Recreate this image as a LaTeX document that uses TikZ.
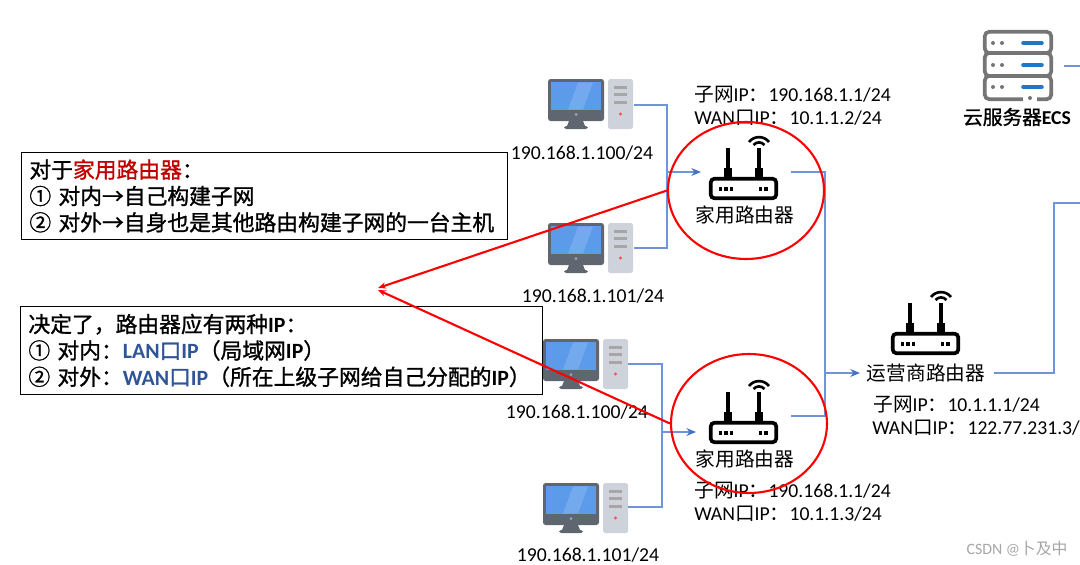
\documentclass[tikz,border=0pt]{standalone}
\usepackage{fontspec}
\setmainfont{Carlito}
\newfontfamily\cjk{Noto Sans CJK SC}
\newfontfamily\cjkb[FakeBold=1.2]{Noto Sans CJK SC}
\newcommand{\zh}[1]{{\cjk #1}}
\newcommand{\zb}[1]{{\cjkb #1}}
\usetikzlibrary{arrows.meta,shapes.geometric}
\definecolor{linkblue}{HTML}{6F94D8}
\definecolor{tipblue}{HTML}{4472C4}
\definecolor{lanblue}{HTML}{2F5597}
\definecolor{homered}{HTML}{C00000}
\definecolor{bezelgray}{HTML}{5F6670}
\definecolor{screenblue}{HTML}{5B9BEA}
\definecolor{towergray}{HTML}{CED2DA}
\definecolor{rackgray}{HTML}{757575}
\definecolor{barblue}{HTML}{1E78C8}
\tikzset{
	link/.style={draw=linkblue, line width=0.7pt},
	linkarrow/.style={link, -{Stealth[length=5.5pt,width=4.5pt,color=tipblue]}},
	redarrow/.style={draw=red, line width=1.2pt, -{Stealth[length=4.5pt,width=3.5pt]}},
	redring/.style={draw=red, line width=1.2pt, ellipse, inner sep=0pt, minimum width=3.12cm},
	iplabel/.style={font=\fontsize{11.2pt}{13pt}\selectfont, inner sep=0pt},
	devname/.style={font=\fontsize{11.2pt}{13pt}\selectfont, inner sep=0pt},
	notebox/.style={draw=black, fill=white, line width=0.6pt, anchor=north west, align=left, inner xsep=4.5pt, inner ysep=0pt,
		font=\fontsize{12.4pt}{15pt}\selectfont},
	pics/pc/.style={code={
		\fill[bezelgray, rounded corners=1.5pt] (0,0) rectangle (56,42);
		\fill[screenblue] (3.3,3.3) rectangle (52.7,30.7);
		\fill[white, opacity=0.15] (30,3.3) -- (45,3.3) -- (35,30.7) -- (20,30.7) -- cycle;
		\fill[towergray!60!bezelgray] (28,35.5) circle (1.5);
		\fill[bezelgray] (21,42) -- (35,42) -- (37,47) -- (19,47) -- cycle;
		\fill[bezelgray, rounded corners=1pt] (16,47) rectangle (40,50);
		\fill[towergray, rounded corners=1pt] (60,0) rectangle (85,50);
		\fill[gray!70] (65.5,7) rectangle (79,10);
		\fill[gray!70] (65.5,14) rectangle (79,17);
		\fill[gray!70] (65.5,21.5) rectangle (79,24.5);
		\fill[red!70] (72.5,35) circle (1.6);
	}},
	pics/router/.style={code={
		\draw[black, line width=2.1pt, rounded corners=2pt] (1.8,1.8) rectangle (67.2,21.2);
		\draw[black, line width=2.2pt] (19,1) -- (19,-29);
		\draw[black, line width=4.2pt] (19,1) -- (19,-9);
		\draw[black, line width=2.2pt] (50,1) -- (50,-29);
		\draw[black, line width=4.2pt] (50,1) -- (50,-9);
		\draw[black, line width=1.5pt] (40,-35) .. controls (45,-41.5) and (55,-41.5) .. (60,-35);
		\draw[black, line width=1.5pt] (44.5,-32) .. controls (47.5,-35.5) and (52.5,-35.5) .. (55.5,-32);
		\foreach \dotx in {11.5,17,22.5,51.5,57}
			\fill[black] (\dotx-1.9,10) rectangle (\dotx+1.9,13.7);
	}},
	pics/server/.style={code={
		\draw[rackgray, line width=2.1pt, rounded corners=2.5pt] (1.8,1.8) rectangle (68.2,23);
		\draw[rackgray, line width=2.1pt, rounded corners=2.5pt] (1.8,23) rectangle (68.2,46);
		\draw[rackgray, line width=2.1pt, rounded corners=2.5pt] (1.8,46) rectangle (68.2,69.2);
		\fill[white] (40,66) rectangle (54,72);
		\fill[rackgray] (47,68) circle (2);
		\foreach \rowy in {13,35,57} {
			\fill[rackgray] (10,\rowy) circle (2);
			\fill[rackgray] (19,\rowy) circle (2);
			\draw[barblue, line width=2pt, line cap=round] (40,\rowy) -- (59,\rowy);
		}
	}}
}
\begin{document}
\begin{tikzpicture}[x=0.02cm, y=-0.02cm]
	\useasboundingbox (0,0) rectangle (1080,565);

	\pic (pc1) at (548,79) {pc};
	\pic (pc2) at (548,223) {pc};
	\pic (pc3) at (543,339) {pc};
	\pic (pc4) at (543,483) {pc};
	\pic (home1) at (709,177) {router};
	\pic (home2) at (709,421) {router};
	\pic (isp) at (891,332) {router};
	\pic (ecs) at (983,30) {server};

	% ports and bends
	\coordinate (pc1port) at (634,105);
	\coordinate (pc2port) at (634,248);
	\coordinate (pc3port) at (628,364);
	\coordinate (pc4port) at (628,507);
	\coordinate (join1) at (667,172);
	\coordinate (join2) at (662,432);
	\coordinate (join3) at (825,373);
	\coordinate (home1in) at (701,172);
	\coordinate (home2in) at (696,432);
	\coordinate (home1out) at (791,172);
	\coordinate (home2out) at (791,416);
	\coordinate (ispin) at (860,373);
	\coordinate (ispout) at (994,373);
	\coordinate (wanend) at (1080,203);
	\coordinate (ecsport) at (1064,66);
	\coordinate (ecsend) at (1080,66);
	\coordinate (meet1) at (378,288);
	\coordinate (meet2) at (378,290);

	\draw[link] (pc1port) -| (join1);
	\draw[link] (pc2port) -| (join1);
	\draw[linkarrow] (join1) -- (home1in);
	\draw[link] (pc3port) -| (join2);
	\draw[link] (pc4port) -| (join2);
	\draw[linkarrow] (join2) -- (home2in);
	\draw[link] (home1out) -| (join3);
	\draw[link] (home2out) -| (join3);
	\draw[linkarrow] (join3) -- (ispin);
	\draw[link] (ispout) -| (1054,203) -- (wanend);
	\draw[link] (ecsport) -- (ecsend);

	\node[devname] (home1name) at (745,215) {\zh{家用路由器}};
	\node[devname] (home2name) at (745,459) {\zh{家用路由器}};
	\node[devname] (ispname) at (926,373) {\zh{运营商路由器}};
	\node[devname] (ecsname) at (1017,117) {\zb{云服务器}\textbf{ECS}};

	\node[iplabel] (pc1ip) at (582,153) {190.168.1.100/24};
	\node[iplabel] (pc2ip) at (593,296) {190.168.1.101/24};
	\node[iplabel] (pc3ip) at (577,412) {190.168.1.100/24};
	\node[iplabel] (pc4ip) at (588,555) {190.168.1.101/24};

	\node[iplabel, anchor=west] (home1lan) at (694,95) {\zh{子网}IP\zh{：}190.168.1.1/24};
	\node[iplabel, anchor=west] (home1wan) at (694,118) {WAN\zh{口}IP\zh{：}10.1.1.2/24};
	\node[iplabel, anchor=west] (home2lan) at (694,491) {\zh{子网}IP\zh{：}190.168.1.1/24};
	\node[iplabel, anchor=west] (home2wan) at (694,514) {WAN\zh{口}IP\zh{：}10.1.1.3/24};
	\node[iplabel, anchor=west] (isplan) at (873,405) {\zh{子网}IP\zh{：}10.1.1.1/24};
	\node[iplabel, anchor=west] (ispwan) at (872,428) {WAN\zh{口}IP\zh{：}122.77.231.3/};

	\node[notebox, text width=9.72cm-9pt, minimum height=1.74cm] (note1) at (21,152) {%
		\zb{对于}{\cjkb\color{homered}家用路由器}\zb{：}\\
		\zb{① 对内→自己构建子网}\\
		\zb{② 对外→自身也是其他路由构建子网的一台主机}};
	\node[notebox, text width=10.44cm-9pt, minimum height=1.76cm] (note2) at (20,306) {%
		\zb{决定了，路由器应有两种}\textbf{IP}\zb{：}\\
		\zb{① 对内：}{\color{lanblue}\textbf{LAN}\zb{口}\textbf{IP}}\zb{（局域网}\textbf{IP}\zb{）}\\
		\zb{② 对外：}{\color{lanblue}\textbf{WAN}\zb{口}\textbf{IP}}\zb{（所在上级子网给自己分配的}\textbf{IP}\zb{）}};

	\node[redring, minimum height=2.74cm] (ring1) at (746,190.5) {};
	\node[redring, minimum height=2.78cm] (ring2) at (749,423.5) {};
	\draw[redarrow] (ring1.west) -- (meet1);
	\draw[redarrow] (ring2.west) -- (meet2);

	\node[text=gray!70, inner sep=0pt, font=\fontsize{9pt}{11pt}\selectfont] (mark) at (1017,549) {CSDN @\zh{卜及中}};
\end{tikzpicture}
\end{document}
